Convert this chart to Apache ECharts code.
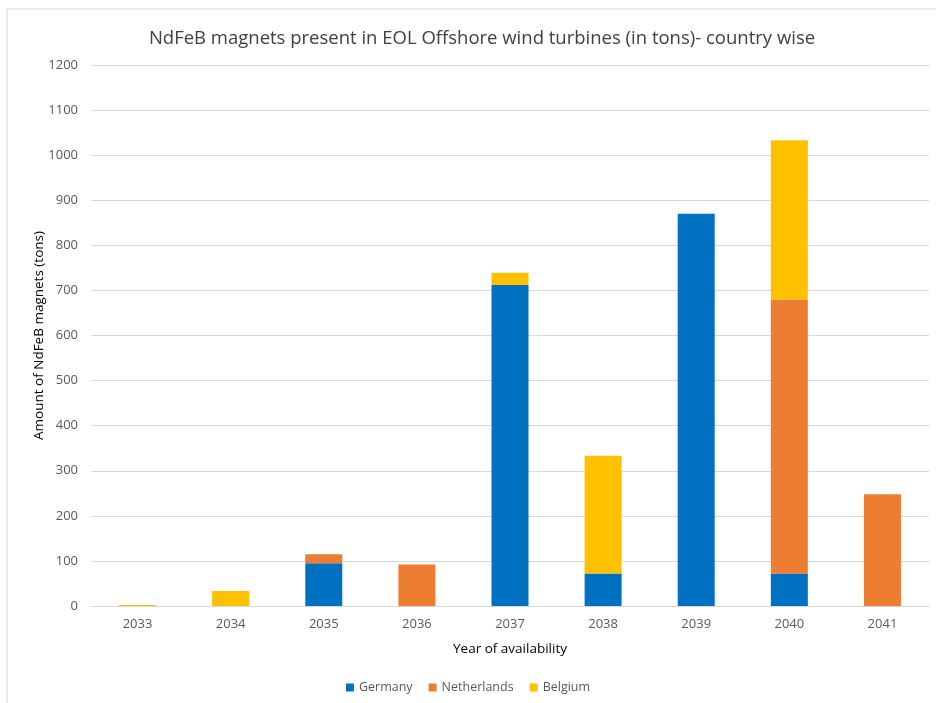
<!DOCTYPE html>
<html>
<head>
    <meta http-equiv="Content-Type" content="text/html; charset=utf-8"/>
    <script src="https://cdn.jsdelivr.net/npm/echarts@6/dist/echarts.min.js"></script>
    <style>
        html, body { margin: 0; padding: 0; background: #fff; }
    </style>
</head>
<body>

<div id="main" style="width: 936px; height: 703px;"></div>

<script type="text/javascript">
    // 数据
    var years = ['2033', '2034', '2035', '2036', '2037', '2038', '2039', '2040', '2041'];
    var germany = [0, 0, 95, 0, 712, 72, 870, 72, 0];
    var netherlands = [0, 0, 20, 92, 0, 0, 0, 608, 248];
    var belgium = [2, 33, 0, 0, 27, 261, 0, 353, 0];

    var font = "'Open Sans', 'Noto Sans', sans-serif";

    var chart = echarts.init(document.getElementById('main'));
    var option = {
        animation: false,
        title: {
            text: 'NdFeB magnets present in EOL Offshore wind turbines (in tons)- country wise',
            left: 477,
            textAlign: 'center',
            top: 24,
            textStyle: {
                fontFamily: font,
                fontSize: 18.5,
                fontWeight: 'normal',
                color: '#404040'
            }
        },
        color: ['#0070c0', '#ed7d31', '#ffc000'],
        grid: {
            left: 91,
            right: 7,
            top: 65,
            bottom: 97
        },
        legend: {
            bottom: 4,
            left: 'center',
            itemWidth: 8,
            itemHeight: 8,
            itemGap: 16,
            icon: 'rect',
            textStyle: {
                fontFamily: font,
                fontSize: 12.5,
                color: '#595959'
            },
            data: ['Germany', 'Netherlands', 'Belgium']
        },
        xAxis: {
            type: 'category',
            data: years,
            name: 'Year of availability',
            nameLocation: 'middle',
            nameGap: 36,
            nameTextStyle: {
                fontFamily: font,
                fontSize: 13.5,
                color: '#000'
            },
            axisLine: { lineStyle: { color: '#d9d9d9' } },
            axisTick: { show: false },
            axisLabel: {
                margin: 12,
                fontFamily: font,
                fontSize: 13,
                color: '#595959'
            }
        },
        yAxis: {
            type: 'value',
            min: 0,
            max: 1200,
            interval: 100,
            name: 'Amount of NdFeB magnets (tons)',
            nameLocation: 'middle',
            nameGap: 45,
            nameMoveOverlap: false,
            nameTextStyle: {
                fontFamily: font,
                fontSize: 13.5,
                color: '#000'
            },
            axisLine: { show: false },
            axisTick: { show: false },
            splitLine: { lineStyle: { color: '#d9d9d9' } },
            axisLabel: {
                margin: 13,
                fontFamily: font,
                fontSize: 13,
                color: '#595959',
                formatter: function (v) { return String(v); }
            }
        },
        series: [
            { name: 'Germany', type: 'bar', stack: 'total', barWidth: 37, data: germany },
            { name: 'Netherlands', type: 'bar', stack: 'total', barWidth: 37, data: netherlands },
            { name: 'Belgium', type: 'bar', stack: 'total', barWidth: 37, data: belgium }
        ],
        // 图表外框
        graphic: [
            { type: 'line', shape: { x1: 7, y1: 9, x2: 936, y2: 9 }, style: { stroke: '#d9d9d9', lineWidth: 1 } },
            { type: 'line', shape: { x1: 7, y1: 9, x2: 7, y2: 703 }, style: { stroke: '#d9d9d9', lineWidth: 1 } }
        ]
    };
    chart.setOption(option);
</script>

</body>
</html>
